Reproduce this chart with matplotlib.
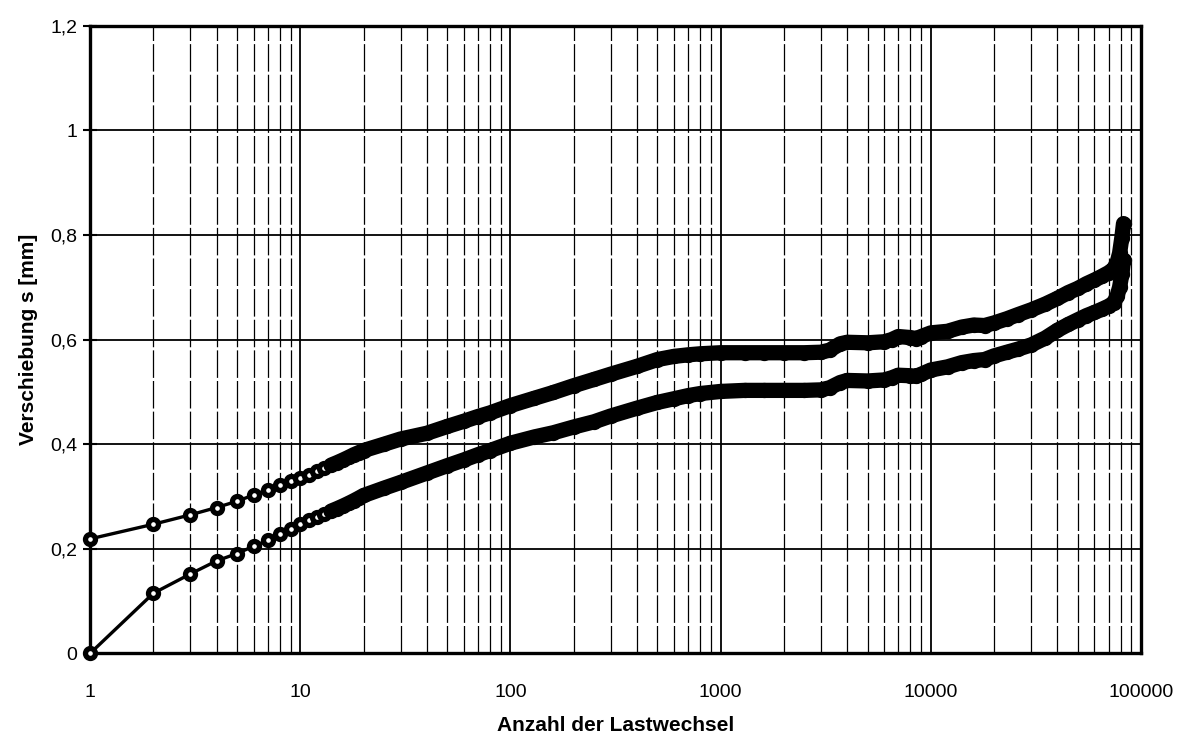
import numpy as np
import matplotlib
matplotlib.use("Agg")
import matplotlib.pyplot as plt

plt.rcParams['font.family'] = ['Liberation Sans', 'DejaVu Sans']

# Lastwechsel N
lastwechsel = np.array([1, 2, 3, 4, 5, 6, 7, 8, 9, 10, 11, 12, 13, 14, 15, 16, 17, 18, 19, 20,
                        25, 30, 40, 50, 60, 70, 80, 100, 130, 160, 200, 250, 300, 400, 500,
                        600, 700, 800, 1000, 1300, 1600, 2000, 2500, 3000, 3300, 3700, 4000,
                        5000, 6000, 6500, 7000, 8000, 8500, 9000, 10000, 12000, 14000, 16000,
                        18000, 20000, 23000, 26000, 30000, 35000, 40000, 45000, 50000, 55000,
                        60000, 65000, 70000, 74000, 77000, 79000, 81000, 82500])

# Verschiebung obere Kurve [mm]
s_oben = np.array([0.219, 0.247, 0.265, 0.279, 0.291, 0.303, 0.313, 0.322, 0.329, 0.335,
                   0.342, 0.348, 0.354, 0.360, 0.365, 0.370, 0.375, 0.380, 0.384, 0.388,
                   0.400, 0.410, 0.421, 0.434, 0.444, 0.453, 0.460, 0.474, 0.488, 0.499,
                   0.512, 0.524, 0.534, 0.549, 0.562, 0.568, 0.571, 0.573, 0.575, 0.575,
                   0.575, 0.575, 0.575, 0.576, 0.580, 0.592, 0.595, 0.594, 0.596, 0.600,
                   0.606, 0.604, 0.602, 0.606, 0.613, 0.616, 0.624, 0.628, 0.627, 0.632,
                   0.640, 0.648, 0.657, 0.668, 0.679, 0.690, 0.698, 0.707, 0.714, 0.721,
                   0.728, 0.735, 0.748, 0.765, 0.795, 0.822])

# Verschiebung untere Kurve [mm]
s_unten = np.array([0.0, 0.115, 0.152, 0.177, 0.191, 0.205, 0.216, 0.228, 0.238, 0.248,
                    0.255, 0.261, 0.267, 0.272, 0.277, 0.282, 0.287, 0.292, 0.297, 0.302,
                    0.316, 0.327, 0.345, 0.359, 0.370, 0.380, 0.388, 0.402, 0.414, 0.422,
                    0.433, 0.443, 0.454, 0.469, 0.480, 0.487, 0.493, 0.497, 0.501, 0.503,
                    0.503, 0.503, 0.503, 0.504, 0.508, 0.518, 0.522, 0.521, 0.523, 0.527,
                    0.532, 0.531, 0.530, 0.534, 0.542, 0.548, 0.556, 0.560, 0.562, 0.569,
                    0.576, 0.582, 0.590, 0.603, 0.618, 0.629, 0.638, 0.646, 0.652, 0.658,
                    0.664, 0.670, 0.684, 0.700, 0.725, 0.752])

y_ticks = [0, 0.2, 0.4, 0.6, 0.8, 1.0, 1.2]
y_labels = ['0', '0,2', '0,4', '0,6', '0,8', '1', '1,2']
x_ticks = [1, 10, 100, 1000, 10000, 100000]
x_labels = ['1', '10', '100', '1000', '10000', '100000']

fig = plt.figure(figsize=(11.88, 7.4), dpi=100)
ax = fig.add_axes([0.0758, 0.117, 0.8847, 0.848])

ax.set_xscale('log')
ax.set_xlim(1, 100000)
ax.set_ylim(0, 1.2)

# Gitter
ax.grid(True, which='major', axis='both', color='black', lw=1.3, ls='-')
ax.grid(True, which='minor', axis='x', color='black', lw=0.9, ls=(0, (22, 2.5)))
ax.set_axisbelow(True)

for s in (s_oben, s_unten):
    ax.plot(lastwechsel, s, color='black', lw=2.4, marker='o', ms=7.2,
            mfc='white', mec='black', mew=3.8, clip_on=False, zorder=3)
    # dicht liegende Messpunkte verschmelzen zu einem Band
    ax.plot(lastwechsel[13:], s[13:], color='black', lw=11,
            solid_capstyle='round', solid_joinstyle='round', clip_on=False, zorder=4)

for sp in ax.spines.values():
    sp.set_linewidth(2.4)
    sp.set_color('black')

ax.set_yticks(y_ticks)
ax.set_yticklabels(y_labels)
ax.set_xticks(x_ticks)
ax.set_xticklabels(x_labels)
ax.tick_params(axis='y', which='major', direction='inout', length=10, width=1.5,
               labelsize=14, pad=4)
ax.tick_params(axis='x', which='major', length=0, labelsize=14, pad=22)
ax.tick_params(axis='x', which='minor', length=0)

ax.set_xlabel('Anzahl der Lastwechsel', fontsize=15, fontweight='bold', labelpad=11)
ax.set_ylabel('Verschiebung s [mm]', fontsize=15, fontweight='bold', labelpad=9)

fig.savefig('out.png', dpi=100)
